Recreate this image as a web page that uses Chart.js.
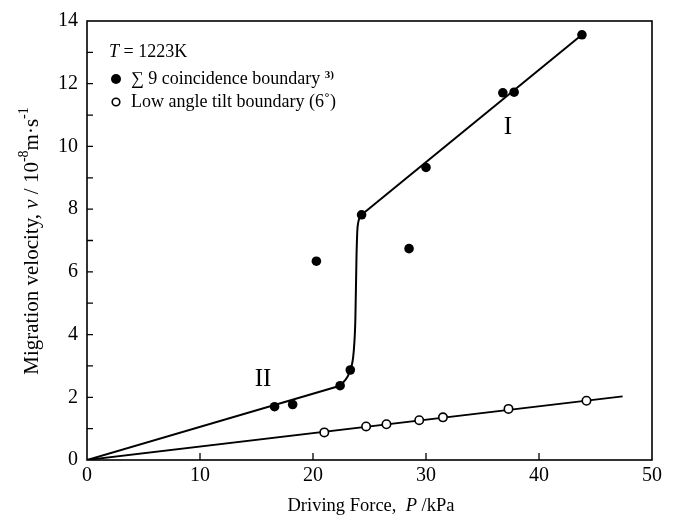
<!DOCTYPE html>
<html>
<head>
<meta charset="utf-8">
<script src="https://cdn.jsdelivr.net/npm/chart.js@4/dist/chart.umd.min.js"></script>
<style>
  html, body { margin: 0; padding: 0; background: #fff; }
  #wrap { width: 679px; height: 525px; }
</style>
</head>
<body>
<div id="wrap"><canvas id="c" width="679" height="525"></canvas></div>
<script>
// Sigma 9 coincidence boundary (filled dots)
var sigmaX = [16.6, 18.2, 20.3, 22.4, 23.3, 24.3, 28.5, 30.0, 36.8, 37.8, 43.8];
var sigmaY = [1.70, 1.77, 6.34, 2.37, 2.87, 7.82, 6.74, 9.33, 11.71, 11.73, 13.56];

// low angle tilt boundary (open dots)
var lowX = [21.0, 24.7, 26.5, 29.4, 31.5, 37.3, 44.2];
var lowY = [0.88, 1.07, 1.14, 1.27, 1.36, 1.63, 1.89];

// drawn guide lines
var lineIIX = [0, 22.4];
var lineIIY = [0, 2.37];
var stepX = [22.4, 23.3, 23.6, 23.75, 23.85, 23.95, 24.3];
var stepY = [2.37, 2.87, 3.45, 4.5, 6.5, 7.45, 7.82];
var lineIX = [24.3, 43.8];
var lineIY = [7.82, 13.56];
var lowLineX = [0, 47.4];
var lowLineY = [0, 2.03];

var xTicks = [0, 10, 20, 30, 40, 50];
var yTicks = [0, 2, 4, 6, 8, 10, 12, 14];

var FONT = "'Liberation Serif', 'Times New Roman', serif";

function pts(xs, ys) {
    return xs.map(function (x, i) { return {x: x, y: ys[i]}; });
}

function lineSet(xs, ys, extra) {
    var d = {
        type: 'line',
        data: pts(xs, ys),
        showLine: true,
        borderColor: '#000',
        borderWidth: 2,
        pointRadius: 0,
        fill: false,
        tension: 0
    };
    for (var k in extra) { d[k] = extra[k]; }
    return d;
}

// draws a list of text pieces one after the other
function drawRuns(ctx, runs, x, y, align) {
    var total = 0;
    runs.forEach(function (r) {
        ctx.font = r.font;
        total += ctx.measureText(r.t).width;
    });
    var cx = align === 'center' ? x - total / 2 : x;
    runs.forEach(function (r) {
        ctx.font = r.font;
        ctx.fillText(r.t, cx, y + (r.dy || 0));
        cx += ctx.measureText(r.t).width;
    });
}

var decor = {
    id: 'decor',
    afterDraw: function (chart) {
        var ctx = chart.ctx;
        var a = chart.chartArea;
        var xs = chart.scales.x, ys = chart.scales.y;
        ctx.save();
        ctx.strokeStyle = '#000';
        ctx.fillStyle = '#000';
        ctx.lineWidth = 1.6;
        ctx.strokeRect(a.left, a.top, a.right - a.left, a.bottom - a.top);

        // inward ticks
        ctx.lineWidth = 1.3;
        ctx.beginPath();
        for (var v = 1; v < 14; v++) {
            var py = ys.getPixelForValue(v);
            ctx.moveTo(a.left, py);
            ctx.lineTo(a.left + 6, py);
        }
        for (var u = 10; u < 50; u += 10) {
            var px = xs.getPixelForValue(u);
            ctx.moveTo(px, a.bottom);
            ctx.lineTo(px, a.bottom - 7);
        }
        ctx.stroke();

        ctx.textBaseline = 'middle';
        var reg = function (s) { return s + 'px ' + FONT; };
        var ita = function (s) { return 'italic ' + s + 'px ' + FONT; };

        // x title
        drawRuns(ctx, [
            {t: 'Driving Force,  ', font: reg(18.5)},
            {t: 'P', font: ita(18.5)},
            {t: ' /kPa', font: reg(18.5)}
        ], 371, 506, 'center');

        // y title
        ctx.save();
        ctx.translate(32, 241);
        ctx.rotate(-Math.PI / 2);
        drawRuns(ctx, [
            {t: 'Migration velocity, ', font: reg(21)},
            {t: 'v', font: ita(21)},
            {t: ' / 10', font: reg(21)},
            {t: '-8', font: reg(14), dy: -8},
            {t: 'm\u00b7s', font: reg(21)},
            {t: '-1', font: reg(14), dy: -8}
        ], 0, 0, 'center');
        ctx.restore();

        // legend
        drawRuns(ctx, [
            {t: 'T', font: ita(18)},
            {t: ' = 1223K', font: reg(18)}
        ], 109, 52, 'left');
        ctx.beginPath();
        ctx.arc(116, 79, 5, 0, Math.PI * 2);
        ctx.fill();
        drawRuns(ctx, [
            {t: '\u2211 9 coincidence boundary ', font: reg(18)},
            {t: '3)', font: 'bold 11px ' + FONT, dy: -4}
        ], 131, 79, 'left');
        ctx.beginPath();
        ctx.lineWidth = 1.6;
        ctx.arc(116, 102, 3.8, 0, Math.PI * 2);
        ctx.stroke();
        drawRuns(ctx, [
            {t: 'Low angle tilt boundary (6\u02da)', font: reg(18)}
        ], 131, 102, 'left');

        // region labels
        ctx.font = reg(25);
        ctx.textAlign = 'center';
        ctx.fillText('I', 508, 127);
        ctx.fillText('II', 263, 379);
        ctx.restore();
    }
};

var ctx = document.getElementById('c').getContext('2d');
var chart = new Chart(ctx, {
    type: 'scatter',
    data: {
        datasets: [
            {
                label: 'Sigma 9 coincidence boundary',
                data: pts(sigmaX, sigmaY),
                pointRadius: 4.8,
                pointBackgroundColor: '#000',
                pointBorderColor: '#000',
                pointBorderWidth: 0
            },
            {
                label: 'Low angle tilt boundary (6)',
                data: pts(lowX, lowY),
                pointRadius: 4.2,
                pointBackgroundColor: '#fff',
                pointBorderColor: '#000',
                pointBorderWidth: 1.6
            },
            lineSet(lineIIX, lineIIY, {}),
            lineSet(stepX, stepY, {cubicInterpolationMode: 'monotone'}),
            lineSet(lineIX, lineIY, {}),
            lineSet(lowLineX, lowLineY, {borderWidth: 1.8})
        ]
    },
    options: {
        responsive: false,
        animation: false,
        devicePixelRatio: 1,
        layout: { padding: {top: 17, right: 27, left: 0, bottom: 0} },
        plugins: {
            legend: { display: false },
            tooltip: { enabled: false }
        },
        scales: {
            x: {
                type: 'linear',
                min: 0, max: 50,
                afterFit: function (s) { s.height = 65; },
                afterBuildTicks: function (s) {
                    s.ticks = xTicks.map(function (v) { return {value: v}; });
                },
                grid: { display: false, drawTicks: false },
                border: { display: false },
                ticks: {
                    padding: 4,
                    color: '#000',
                    font: { family: FONT, size: 20 },
                    maxRotation: 0
                }
            },
            y: {
                type: 'linear',
                min: 0, max: 14,
                afterFit: function (s) { s.width = 87; },
                afterBuildTicks: function (s) {
                    s.ticks = yTicks.map(function (v) { return {value: v}; });
                },
                grid: { display: false, drawTicks: false },
                border: { display: false },
                ticks: {
                    padding: 9,
                    color: '#000',
                    font: { family: FONT, size: 20 }
                }
            }
        }
    },
    plugins: [decor]
});
</script>
</body>
</html>
